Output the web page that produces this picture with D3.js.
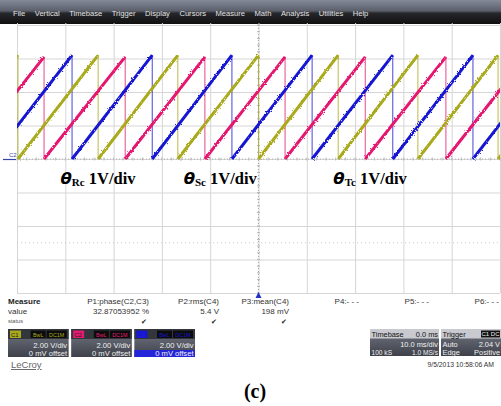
<!DOCTYPE html>
<html>
<head>
<meta charset="utf-8">
<script src="https://cdn.jsdelivr.net/npm/d3@7"></script>
<style>
  body { margin: 0; background: #fff; }
  svg { display: block; font-family: Arial, "Liberation Sans", sans-serif; }
</style>
</head>
<body>
<script>
// ---- data ----
const menuItems = ["File", "Vertical", "Timebase", "Trigger", "Display", "Cursors", "Measure", "Math", "Analysis", "Utilities", "Help"];

// reset (fall) times of each sawtooth, ms from trigger
const resetsC1 = [-66.3, -49.8, -33.2, -16.7, 0.0, 16.5, 33.0, 49.6, 66.2];
const resetsC2 = [-61.0, -44.4, -27.6, -11.1, 5.5, 22.1, 38.8, 55.4];
const resetsC3 = [-55.2, -38.6, -22.0, -5.5, 11.1, 27.8, 44.4, 61.0];
const rampLow = [0, 0, 0];        // div
const rampHigh = [3.1, 3.05, 3.1]; // div

const angleLabels = ["Rc", "Sc", "Tc"];
const angleLabelTimes = [-41, -15.5, 15.5]; // ms where each label starts

const measureNames = ["P1:phase(C2,C3)", "P2:rms(C4)", "P3:mean(C4)", "P4:- - -", "P5:- - -", "P6:- - -"];
const measureValues = ["32.87053952 %", "5.4 V", "198 mV", "", "", ""];
const measureOk = [true, true, true, false, false, false];

const channelNames = ["C1", "C2", "C3"];
const channelScales = ["2.00 V/div", "2.00 V/div", "2.00 V/div"];
const channelOffsets = ["0 mV offset", "0 mV offset", "0 mV offset"];

const timebase = ["Timebase", "0.0 ms", "10.0 ms/div", "100 kS", "1.0 MS/s"];
const trigger = ["Trigger", "Auto", "2.04 V", "Edge", "Positive"];
const stamp = "9/5/2013 10:58:06 AM";

// ---- style ----
const traceColors = ["#a9a91c", "#e4196f", "#1616d2"];
const W = 501, H = 406;
const plotL = 17, plotR = 500, plotT = 25, plotB = 293;

const svg = d3.select("body").append("svg")
  .attr("width", W)
  .attr("height", H);

const defs = svg.append("defs");
const mg = defs.append("linearGradient").attr("id", "menuGrad").attr("x1", 0).attr("x2", 0).attr("y1", 0).attr("y2", 1);
mg.append("stop").attr("offset", "0%").attr("stop-color", "#858a98");
mg.append("stop").attr("offset", "45%").attr("stop-color", "#5b5f6b");
mg.append("stop").attr("offset", "55%").attr("stop-color", "#26272b");
mg.append("stop").attr("offset", "100%").attr("stop-color", "#101010");

const bg = defs.append("linearGradient").attr("id", "boxGrad").attr("x1", 0).attr("x2", 0).attr("y1", 0).attr("y2", 1);
bg.append("stop").attr("offset", "0%").attr("stop-color", "#737782");
bg.append("stop").attr("offset", "100%").attr("stop-color", "#3e414a");

defs.append("clipPath").attr("id", "plotClip")
  .append("rect").attr("x", plotL).attr("y", plotT).attr("width", plotR - plotL).attr("height", plotB - plotT);

const noise = defs.append("filter").attr("id", "jag").attr("x", "-5%").attr("y", "-5%").attr("width", "110%").attr("height", "110%");
noise.append("feTurbulence").attr("type", "fractalNoise").attr("baseFrequency", 0.7).attr("numOctaves", 1).attr("seed", 3).attr("result", "n");
noise.append("feDisplacementMap").attr("in", "SourceGraphic").attr("in2", "n").attr("scale", 2.8);

// menu bar
svg.append("rect").attr("x", 0).attr("y", 0).attr("width", W).attr("height", 24).attr("fill", "url(#menuGrad)");
let mx = 13;
menuItems.forEach(m => {
  const t = svg.append("text").attr("x", mx).attr("y", 15.5)
    .attr("fill", "#e2e2e2").style("font-size", "7.6px").text(m);
  mx += t.node().getComputedTextLength() + 9.5;
});

// scales
const x = d3.scaleLinear().domain([-50, 50]).range([plotL, plotR]);
const y = d3.scaleLinear().domain([-4, 4]).range([plotB, plotT]);

// grid
const grid = svg.append("g");
grid.append("g")
  .attr("transform", `translate(0,${plotB})`)
  .call(d3.axisBottom(x).tickValues(d3.range(-50, 51, 10)).tickSize(-(plotB - plotT + 2)).tickFormat(""))
  .call(g => g.select(".domain").remove())
  .call(g => g.selectAll("line").attr("stroke", "#d6d6d6"));
grid.append("g")
  .attr("transform", `translate(${plotL},0)`)
  .call(d3.axisLeft(y).tickValues(d3.range(-4, 5, 1)).tickSize(-(plotR - plotL)).tickFormat(""))
  .call(g => g.select(".domain").remove())
  .call(g => g.selectAll("line").attr("stroke", "#d6d6d6"));

// centre axes with minor ticks
grid.append("line").attr("x1", x(0)).attr("x2", x(0)).attr("y1", plotT).attr("y2", plotB)
  .attr("stroke", "#a8a8a8").attr("stroke-dasharray", "1,2");
grid.selectAll(".vt").data(d3.range(-4, 4.01, 0.2)).join("line")
  .attr("x1", x(0) - 1.5).attr("x2", x(0) + 1.5).attr("y1", d => y(d)).attr("y2", d => y(d))
  .attr("stroke", "#b8b8b8");
grid.append("line").attr("x1", plotL).attr("x2", plotR).attr("y1", y(0)).attr("y2", y(0))
  .attr("stroke", "#b0b0b0").attr("stroke-dasharray", "1,2");
grid.selectAll(".ht").data(d3.range(-50, 50.1, 2)).join("line")
  .attr("x1", d => x(d)).attr("x2", d => x(d)).attr("y1", y(0) - 1.5).attr("y2", y(0) + 1.5)
  .attr("stroke", "#b8b8b8");
grid.append("line").attr("x1", plotL).attr("x2", plotR).attr("y1", y(-2.5)).attr("y2", y(-2.5))
  .attr("stroke", "#c8c8c8").attr("stroke-dasharray", "1,3");

// traces
const traces = svg.append("g").attr("clip-path", "url(#plotClip)");
[resetsC1, resetsC2, resetsC3].forEach((r, ci) => {
  const ramps = d3.pairs(r);
  traces.append("g").selectAll("line").data(ramps).join("line")
    .attr("x1", d => x(d[1])).attr("x2", d => x(d[1]))
    .attr("y1", y(rampHigh[ci])).attr("y2", y(rampLow[ci]))
    .attr("stroke", traceColors[ci]).attr("stroke-opacity", 0.8).attr("stroke-width", 1);
});
[resetsC1, resetsC2, resetsC3].forEach((r, ci) => {
  const ramps = d3.pairs(r);
  traces.append("g").attr("filter", "url(#jag)").selectAll("line").data(ramps).join("line")
    .attr("x1", d => x(d[0])).attr("x2", d => x(d[1]))
    .attr("y1", y(rampLow[ci])).attr("y2", y(rampHigh[ci]))
    .attr("stroke", traceColors[ci]).attr("stroke-width", 3);
});

// ground marker and trigger marker
svg.append("text").attr("x", 9).attr("y", y(0) - 2).attr("fill", "#3346a8")
  .style("font-size", "6px").text("C2");
svg.append("line").attr("x1", 3).attr("x2", 16).attr("y1", y(0) + 0.5).attr("y2", y(0) + 0.5)
  .attr("stroke", "#3346a8").attr("stroke-width", 1.2);
svg.append("path")
  .attr("d", `M${x(0)},${plotB - 1} l-3,6 h6 z`)
  .attr("fill", "#2330c8");

// angle labels
angleLabels.forEach((s, i) => {
  const t = svg.append("text").attr("x", x(angleLabelTimes[i])).attr("y", 184)
    .style("font-family", "'Liberation Serif', 'DejaVu Serif', serif").style("font-weight", "bold")
    .attr("fill", "#000");
  t.append("tspan").style("font-family", "'DejaVu Sans', sans-serif").style("font-style", "italic")
    .style("font-size", "16.5px").text("\u03b8");
  t.append("tspan").attr("dy", 2).style("font-size", "11px").text(s);
  t.append("tspan").attr("dy", -2).style("font-size", "16.5px").text("\u00a01V/div");
});

// measure table
const mcol = d3.scalePoint().domain(measureNames).range([149, 499]);
svg.append("text").attr("x", 8).attr("y", 304).style("font-size", "8px").style("font-weight", "bold")
  .attr("fill", "#222").text("Measure");
svg.append("text").attr("x", 8).attr("y", 314).style("font-size", "8px").attr("fill", "#333").text("value");
svg.append("text").attr("x", 8).attr("y", 323).style("font-size", "5.6px").attr("fill", "#555").text("status");
measureNames.forEach((m, i) => {
  svg.append("text").attr("x", mcol(m)).attr("y", 304).attr("text-anchor", "end")
    .style("font-size", "8px").attr("fill", "#333").text(m);
  svg.append("text").attr("x", mcol(m)).attr("y", 314).attr("text-anchor", "end")
    .style("font-size", "8px").attr("fill", "#333").text(measureValues[i]);
  if (measureOk[i]) {
    svg.append("text").attr("x", mcol(m) - 2).attr("y", 324).attr("text-anchor", "end")
      .style("font-size", "7px").attr("fill", "#222").text("\u2714");
  }
});

// channel descriptor boxes
const cband = d3.scaleBand().domain(channelNames).range([8, 195]).paddingInner(0.04);
channelNames.forEach((c, i) => {
  const bx = cband(c), bw = cband.bandwidth(), by = 329;
  const g = svg.append("g");
  g.append("rect").attr("x", bx).attr("y", by).attr("width", bw).attr("height", 28).attr("fill", "url(#boxGrad)");
  g.append("rect").attr("x", bx).attr("y", by).attr("width", bw).attr("height", 10).attr("fill", "#33363d");
  if (i === 2) {
    g.append("rect").attr("x", bx).attr("y", by + 21).attr("width", bw).attr("height", 7).attr("fill", "#2424d8");
  }
  g.append("rect").attr("x", bx + 2).attr("y", by + 1.5).attr("width", 11).attr("height", 7.5)
    .attr("fill", traceColors[i]);
  g.append("text").attr("x", bx + 3).attr("y", by + 7.8).style("font-size", "6px").attr("fill", i === 2 ? "#2424d8" : "#222").text(c);
  g.append("rect").attr("x", bx + bw - 38).attr("y", by + 1.5).attr("width", 15).attr("height", 7.5).attr("fill", "#0c0c0c");
  g.append("rect").attr("x", bx + bw - 22).attr("y", by + 1.5).attr("width", 20).attr("height", 7.5).attr("fill", "#0c0c0c");
  g.append("text").attr("x", bx + bw - 30.5).attr("y", by + 7.6).attr("text-anchor", "middle")
    .style("font-size", "5.4px").attr("fill", traceColors[i]).text("BwL");
  g.append("text").attr("x", bx + bw - 12).attr("y", by + 7.6).attr("text-anchor", "middle")
    .style("font-size", "5.4px").attr("fill", traceColors[i]).text("DC1M");
  g.append("text").attr("x", bx + bw - 1.5).attr("y", by + 18.5).attr("text-anchor", "end")
    .style("font-size", "7.6px").attr("fill", "#f0f0f0").text(channelScales[i]);
  g.append("text").attr("x", bx + bw - 1.5).attr("y", by + 26.5).attr("text-anchor", "end")
    .style("font-size", "7.6px").attr("fill", "#f0f0f0").text(channelOffsets[i]);
});

// timebase / trigger boxes
function infoBox(bx, bw, rows, tags) {
  const by = 329;
  const g = svg.append("g");
  g.append("rect").attr("x", bx).attr("y", by).attr("width", bw).attr("height", 27).attr("fill", "url(#boxGrad)");
  g.append("rect").attr("x", bx).attr("y", by).attr("width", bw).attr("height", 9.5).attr("fill", "#c9cacf");
  g.append("text").attr("x", bx + 1.5).attr("y", by + 7.6).style("font-size", "7.4px").attr("fill", "#111").text(rows[0]);
  if (tags) {
    g.append("rect").attr("x", bx + bw - 20).attr("y", by + 1.5).attr("width", 19).attr("height", 7).attr("fill", "#111");
    g.append("text").attr("x", bx + bw - 10.5).attr("y", by + 7.3).attr("text-anchor", "middle")
      .style("font-size", "6px").attr("fill", "#eee").text(tags);
  } else {
    g.append("text").attr("x", bx + bw - 1).attr("y", by + 7.6).attr("text-anchor", "end")
      .style("font-size", "7.4px").attr("fill", "#111").text(rows[1]);
  }
  return { g, by };
}
const tb = infoBox(370, 69, timebase, null);
tb.g.append("text").attr("x", 370 + 68).attr("y", tb.by + 17.5).attr("text-anchor", "end")
  .style("font-size", "7.4px").attr("fill", "#f0f0f0").text(timebase[2]);
tb.g.append("text").attr("x", 371.5).attr("y", tb.by + 25.5)
  .style("font-size", "6.6px").attr("fill", "#f0f0f0").text(timebase[3]);
tb.g.append("text").attr("x", 370 + 68).attr("y", tb.by + 25.5).attr("text-anchor", "end")
  .style("font-size", "6.6px").attr("fill", "#f0f0f0").text(timebase[4]);

const tr = infoBox(441, 60, trigger, "C1 DC");
tr.g.append("text").attr("x", 442.5).attr("y", tr.by + 17.5)
  .style("font-size", "7.4px").attr("fill", "#f0f0f0").text(trigger[1]);
tr.g.append("text").attr("x", 500).attr("y", tr.by + 17.5).attr("text-anchor", "end")
  .style("font-size", "7.4px").attr("fill", "#f0f0f0").text(trigger[2]);
tr.g.append("text").attr("x", 442.5).attr("y", tr.by + 25.5)
  .style("font-size", "7.4px").attr("fill", "#f0f0f0").text(trigger[3]);
tr.g.append("text").attr("x", 500).attr("y", tr.by + 25.5).attr("text-anchor", "end")
  .style("font-size", "7.4px").attr("fill", "#f0f0f0").text(trigger[4]);

// footer
svg.append("text").attr("x", 11).attr("y", 368).style("font-size", "9.5px").attr("fill", "#666")
  .attr("text-decoration", "underline").text("LeCroy");
svg.append("text").attr("x", 494).attr("y", 366.5).attr("text-anchor", "end")
  .style("font-size", "6.8px").attr("fill", "#333").text(stamp);
svg.append("text").attr("x", 255).attr("y", 398).attr("text-anchor", "middle")
  .style("font-family", "'Liberation Serif', serif").style("font-weight", "bold")
  .style("font-size", "20px").attr("fill", "#000").text("(c)");
</script>
</body>
</html>
